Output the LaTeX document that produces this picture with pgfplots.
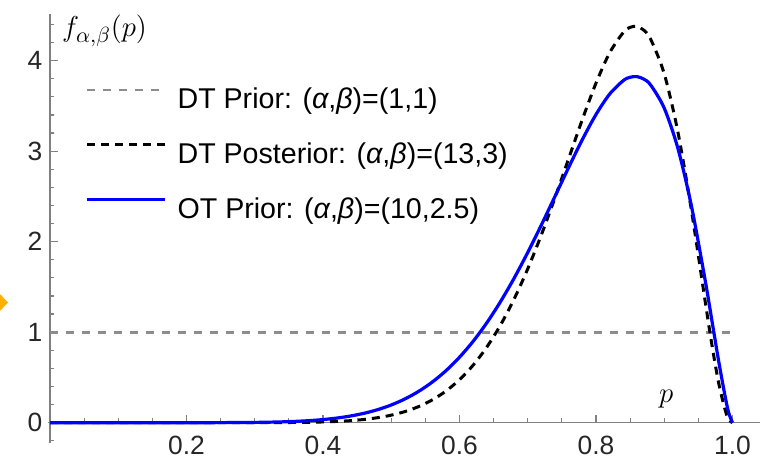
\documentclass[border=0pt]{standalone}
\usepackage{fontspec}
\setmainfont{Liberation Sans}
\usepackage{pgfplots}
\usepackage{pgfplotstable}
\pgfplotsset{compat=1.18}

\definecolor{priorgray}{gray}{0.55}
\definecolor{axgray}{gray}{0.5}
\definecolor{cursor}{HTML}{FFB000}

% Beta densities: f13 = (13,3), f10 = (10,2.5)
\pgfplotstableread{
p      f13        f10
0      0          0
0.10   0          0.0000002
0.20   0.0000036  0.0001039
0.25   0.0000458  0.000703
0.30   0.000355   0.003270
0.32   0.000728   0.005597
0.34   0.001419   0.009235
0.36   0.002649   0.014751
0.38   0.004757   0.022881
0.40   0.008244   0.034562
0.42   0.013835   0.050958
0.44   0.022539   0.073483
0.46   0.035728   0.10381
0.48   0.055212   0.14388
0.50   0.083313   0.19589
0.52   0.12293    0.26225
0.54   0.17757    0.34555
0.56   0.25136    0.44843
0.58   0.34895    0.57353
0.60   0.47541    0.72324
0.62   0.63592    0.89956
0.64   0.83541    1.10383
0.66   1.07800    1.33642
0.68   1.36628    1.59637
0.70   1.70041    1.88102
0.72   2.07701    2.18553
0.74   2.48805    2.50251
0.76   2.91957    2.82144
0.78   3.35053    3.12834
0.80   3.75209    3.40552
0.82   4.08737    3.63130
0.84   4.31247    3.78026
0.85   4.36861    3.81711
0.86   4.37893    3.82389
0.87   4.33745    3.79680
0.88   4.23923    3.73201
0.90   3.85517    3.47545
0.92   3.21193    3.03078
0.94   2.33868    2.38894
0.96   1.33816    1.57166
0.97   0.85239    1.12062
0.98   0.42846    0.66897
0.99   0.12099    0.25915
0.995  0.03213    0.09587
1.00   0          0
}\betatab

\begin{document}
\begin{tikzpicture}
\begin{axis}[
    x=341.25pt, y=45.25pt,
    xmin=-0.003, xmax=1.04,
    ymin=-0.22, ymax=4.52,
    axis lines=middle,
    axis line style={axgray, line width=0.6pt, -},
    xtick={0.2,0.4,0.6,0.8,1.0},
    xticklabels={0.2,0.4,0.6,0.8,1.0},
    ytick={0,1,2,3,4},
    yticklabels={0,1,2,3,4},
    minor xtick={0.05,0.1,0.15,0.25,0.3,0.35,0.45,0.5,0.55,0.65,0.7,0.75,0.85,0.9,0.95},
    minor ytick={-0.2,0.2,0.4,0.6,0.8,1.2,1.4,1.6,1.8,2.2,2.4,2.6,2.8,3.2,3.4,3.6,3.8,4.2,4.4},
    hide obscured x ticks=false,
    hide obscured y ticks=false,
    tick align=inside,
    major tick length=4pt,
    minor tick length=2.2pt,
    every tick/.style={axgray, line width=0.6pt},
    tick label style={font=\fontsize{13.2}{15}\selectfont, text=black!85},
    xticklabel style={anchor=north, inner sep=0pt, yshift=-6.5pt},
    yticklabel style={anchor=east, inner sep=0pt, xshift=-3.7pt},
    xlabel={$p$},
    ylabel={$f_{\alpha,\beta}(p)$},
    every axis x label/.style={at={(axis cs:0.903,0.26)}, anchor=center, font=\fontsize{15}{18}\selectfont},
    every axis y label/.style={at={(axis cs:0.08,4.33)}, anchor=center, font=\fontsize{15.5}{18}\selectfont},
    legend style={at={(axis cs:0.0513,3.70)}, anchor=north west, draw=none, fill=none,
        inner sep=0pt, font=\fontsize{14.3}{17}\selectfont, row sep=15.6pt, column sep=5.5pt,
        nodes={inner sep=0pt}},
    legend cell align=left,
    legend image code/.code={\draw[#1] (0pt,5.1pt) -- (39pt,5.1pt);},
    clip=false,
]
\coordinate (o) at (axis cs:0,0);
\addplot[priorgray, line width=1.35pt, dash pattern=on 4pt off 4pt] coordinates {(0,1) (1,1)};
\addlegendentry{DT Prior: ({\itshape α},{\itshape β})=(1,1)}
\addplot[black, line width=1.5pt, dash pattern=on 4pt off 3pt, smooth] table[x=p, y=f13] {\betatab};
\addlegendentry{DT Posterior: ({\itshape α},{\itshape β})=(13,3)}
\addplot[blue, line width=1.6pt, smooth] table[x=p, y=f10] {\betatab};
\addlegendentry{OT Prior: ({\itshape α},{\itshape β})=(10,2.5)}
\end{axis}
\fill[cursor] ([shift={(-26pt,65.4pt)}]o) -- ([shift={(-21pt,60.1pt)}]o) -- ([shift={(-26pt,54.8pt)}]o) -- cycle;
\pgfresetboundingbox
\path (o) ++(-25pt,-18.65pt) rectangle ++(386pt,230pt);
\end{tikzpicture}
\end{document}
